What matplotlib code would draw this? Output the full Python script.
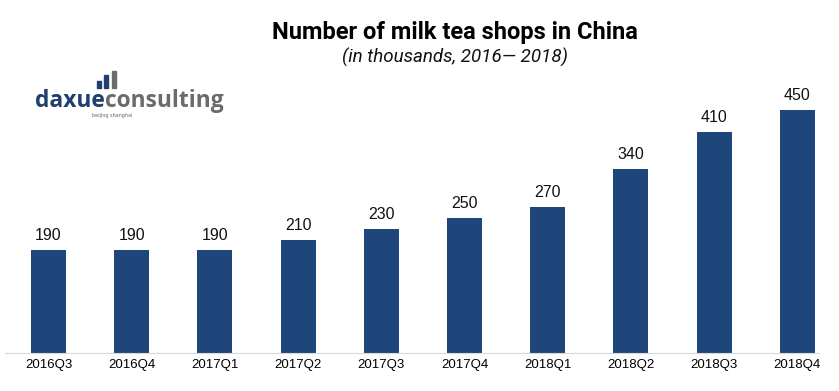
import matplotlib.pyplot as plt
from matplotlib.patches import Rectangle

quarters = ["2016Q3", "2016Q4", "2017Q1", "2017Q2", "2017Q3",
            "2017Q4", "2018Q1", "2018Q2", "2018Q3", "2018Q4"]
shops = [190, 190, 190, 210, 230, 250, 270, 340, 410, 450]

W, H = 839, 391
fig = plt.figure(figsize=(W / 100, H / 100), dpi=100)
ax = fig.add_axes([5 / W, (H - 353) / H, 814 / W, 273 / H])

x = list(range(len(quarters)))
bars = ax.bar(x, shops, width=0.42, color="#1F467B")
for b, v in zip(bars, shops):
    ax.annotate(str(v), (b.get_x() + b.get_width() / 2, v),
                xytext=(0, 7.2), textcoords="offset points",
                ha="center", va="baseline", fontsize=11.5,
                family="Liberation Sans", color="#111111")

ax.set_xlim(-0.523, 9.261)
ax.set_ylim(0, 505.5)
ax.set_xticks(x)
ax.set_xticklabels(quarters, family="Liberation Sans", fontsize=9.5)
ax.tick_params(axis="x", length=0, pad=4.5)
ax.set_yticks([])
for s in ["top", "right", "left"]:
    ax.spines[s].set_visible(False)
ax.spines["bottom"].set_color("#d9d9d9")

fig.text(455 / W, 1 - 32 / H, "Number of milk tea shops in China",
         ha="center", va="center", family="Roboto", fontweight="bold",
         fontsize=17, color="#000000")
fig.text(455 / W, 1 - 57 / H, "(in thousands, 2016\u2014 2018)",
         ha="center", va="center", family="Roboto", style="italic",
         fontsize=13.5, color="#111111")

# logo
t1 = fig.text(35 / W, 1 - 107 / H, "daxue", ha="left", va="baseline",
              family="Open Sans", fontweight="bold", fontsize=16.4,
              color="#1F3F6E")
fig.canvas.draw()
bb = t1.get_window_extent()
fig.text(bb.x1 / W, 1 - 107 / H, "consulting", ha="left", va="baseline",
         family="Open Sans", fontweight="bold", fontsize=16.4, color="#6b6b6b")
fig.text(92 / W, 1 - 117 / H, "beijing shanghai", ha="left", va="baseline",
         family="DejaVu Sans", fontsize=3.5, color="#666666")
for bx, by, bh, c in [(97, 81, 7, "#1F3F6E"), (104, 75, 13, "#1F3F6E"),
                      (112, 71, 17, "#6b6b6b")]:
    fig.patches.append(Rectangle((bx / W, 1 - (by + bh) / H), 3.5 / W, bh / H,
                                 transform=fig.transFigure, color=c))

fig.savefig("out.png", dpi=100)
